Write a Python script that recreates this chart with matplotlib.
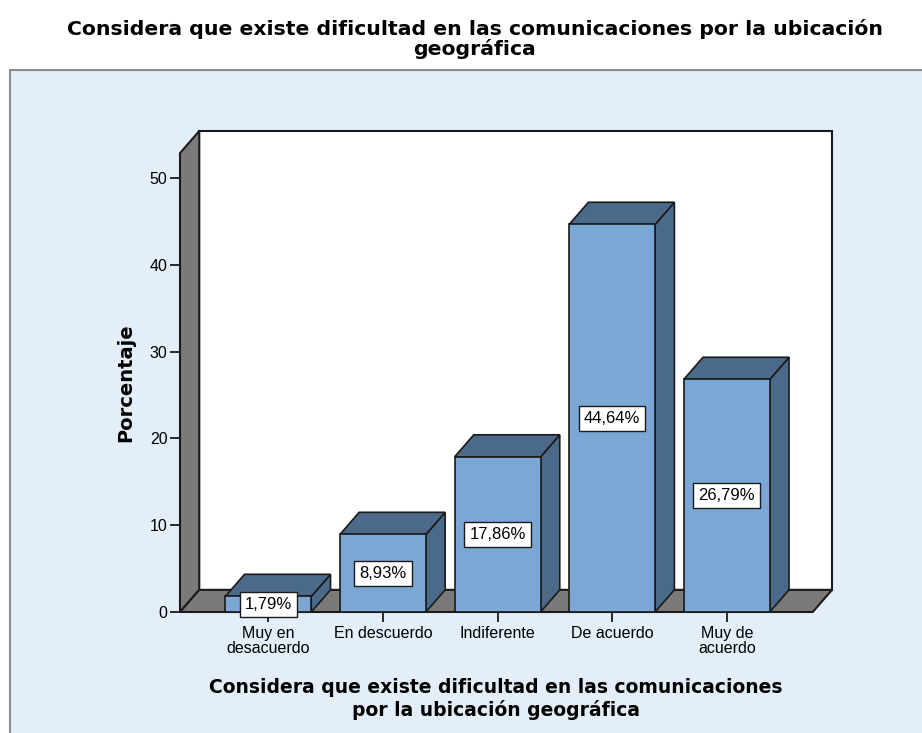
import matplotlib
matplotlib.use("Agg")
import matplotlib.pyplot as plt
from matplotlib.patches import Rectangle, Polygon

categories = ["Muy en\ndesacuerdo", "En descuerdo", "Indiferente", "De acuerdo", "Muy de\nacuerdo"]
values = [1.79, 8.93, 17.86, 44.64, 26.79]
labels = ["1,79%", "8,93%", "17,86%", "44,64%", "26,79%"]
yticks = [0, 10, 20, 30, 40, 50]
title = "Considera que existe dificultad en las comunicaciones por la ubicación\ngeográfica"
xlabel = "Considera que existe dificultad en las comunicaciones\npor la ubicación geográfica"
ylabel = "Porcentaje"

plt.rcParams['font.family'] = ['Liberation Sans', 'DejaVu Sans']

W, H = 922, 733
fig = plt.figure(figsize=(W / 100, H / 100), dpi=100)
fig.patch.set_facecolor('white')

# outer light-blue panel
fig.patches.append(Rectangle((10 / W, -0.01), 1.0, 1 - 70 / H + 0.01, transform=fig.transFigure,
                             facecolor='#E3EEF9', edgecolor='#8C8C8C', lw=1.5, zorder=-10))

ax = fig.add_axes([180 / W, 1 - 612 / H, (832 - 180) / W, (612 - 131) / H])
ax.set_zorder(5)
ax.set_facecolor('none')
for s in ax.spines.values():
    s.set_visible(False)

x0, x1 = -0.77, 4.75
dx, dy = 0.168, 2.55
ytop = 55.4
ax.set_xlim(x0, x1 + dx)
ax.set_ylim(0, ytop)

front = '#7BA7D5'
dark = '#4B6A89'
gray = '#7A7A7A'
edge = '#1A1A1A'

# back wall
ax.add_patch(Rectangle((x0 + dx, dy), x1 - x0, ytop - dy, facecolor='white', edgecolor=edge, lw=1.5, zorder=1, clip_on=False))
# left wall
ax.add_patch(Polygon([(x0, 0), (x0, ytop - dy), (x0 + dx, ytop), (x0 + dx, dy)], closed=True,
                     facecolor=gray, edgecolor=edge, lw=1.5, zorder=2, clip_on=False))
# floor
ax.add_patch(Polygon([(x0, 0), (x1, 0), (x1 + dx, dy), (x0 + dx, dy)], closed=True,
                     facecolor=gray, edgecolor=edge, lw=1.5, zorder=2, clip_on=False))

bw = 0.375
for i, v in enumerate(values):
    ax.add_patch(Polygon([(i + bw, 0), (i + bw + dx, dy), (i + bw + dx, v + dy), (i + bw, v)], closed=True,
                         facecolor=dark, edgecolor=edge, lw=1.2, zorder=3, clip_on=False))
    ax.add_patch(Polygon([(i - bw, v), (i + bw, v), (i + bw + dx, v + dy), (i - bw + dx, v + dy)], closed=True,
                         facecolor=dark, edgecolor=edge, lw=1.2, zorder=3, clip_on=False))
ax.bar(range(len(values)), values, width=2 * bw, color=front, edgecolor=edge, lw=1.2, zorder=4)
for i, (v, lab) in enumerate(zip(values, labels)):
    ax.text(i, v / 2, lab, ha='center', va='center', fontsize=12, zorder=6,
            bbox=dict(boxstyle='square,pad=0.3', facecolor='white', edgecolor=edge, lw=1))

ax.set_xticks(range(len(categories)))
ax.set_xticklabels(categories, fontsize=11.5, linespacing=1.0)
ax.set_yticks(yticks)
ax.set_yticklabels([str(t) for t in yticks], fontsize=11.5)
ax.tick_params(axis='both', direction='out', length=7, width=1.3, color=edge, pad=2)
ax.tick_params(axis='x', pad=3)

ax.set_xlabel(xlabel, fontsize=13.5, fontweight='bold', linespacing=1.15, family=['DejaVu Sans'])
ax.xaxis.set_label_coords(0.485, -0.138)
ax.set_ylabel(ylabel, fontsize=14, fontweight='bold', family=['DejaVu Sans'])
ax.yaxis.set_label_coords(-0.068, 0.476)

fig.text(475 / W, 1 - 39 / H, title, ha='center', va='center', fontsize=14.65, fontweight='bold',
         linespacing=1.05, family=['DejaVu Sans'])

fig.savefig('out.png', dpi=100)
